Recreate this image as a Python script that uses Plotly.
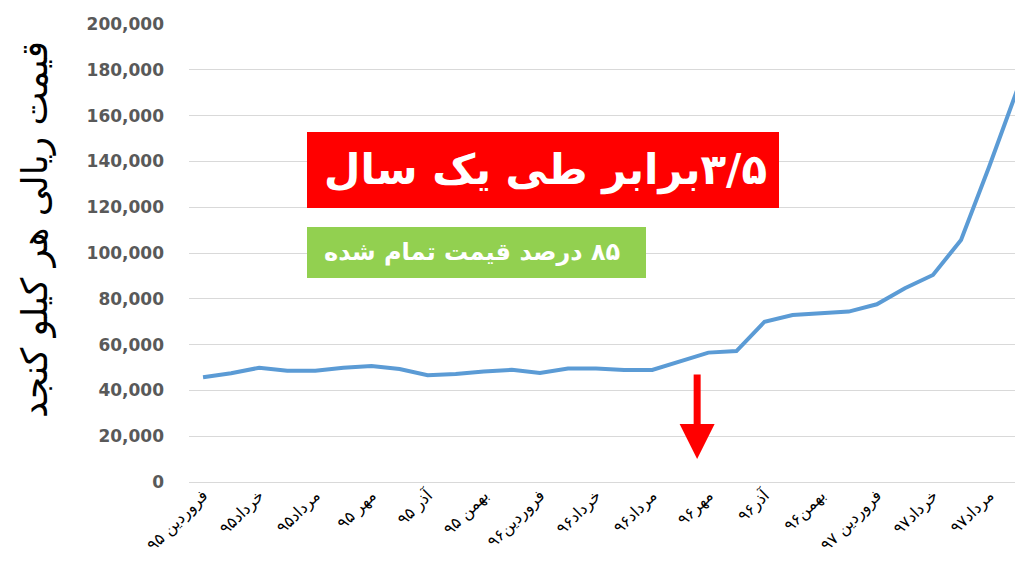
import plotly.graph_objects as go

# ---- data ----
month_index = list(range(30))
prices = [45700, 47500, 49900, 48600, 48600, 49900, 50700, 49300, 46600, 47200,
          48300, 49000, 47600, 49600, 49600, 48900, 48900, 52500, 56500, 57200,
          70000, 72900, 73700, 74400, 77600, 84600, 90400, 105700, 137700, 171200]
tick_positions = list(range(0, 30, 2))
tick_labels = ["فروردین ۹۵", "خرداد۹۵", "مرداد۹۵", "مهر ۹۵", "آذر ۹۵", "بهمن ۹۵",
               "فروردین۹۶", "خرداد۹۶", "مرداد۹۶", "مهر۹۶", "آذر۹۶", "بهمن۹۶",
               "فروردین ۹۷", "خرداد۹۷", "مرداد۹۷"]
y_title = "قیمت ریالی هر کیلو کنجد"
red_text = "\u200F۳/۵برابر طی یک سال\u200F"
green_text = "\u200F۸۵ درصد قیمت تمام شده\u200F"
arrow_x = 17.6
arrow_from = 47600
arrow_to = 10000

# page body has an 8px margin; compensate so the figure lands like the reference
OFF = 8
W, H = 1023 - OFF, 573 - OFF
L, T = 189 - OFF, 24 - OFF
R = W - (1020 - OFF)
B = H - (482 - OFF)
pw, ph = W - L - R, H - T - B


def px(x):
    return (x - OFF - L) / pw


def py(y):
    return (H - B - (y - OFF)) / ph


fig = go.Figure()
fig.add_trace(go.Scatter(
    x=month_index, y=prices, mode="lines",
    line=dict(color="#5B9BD5", width=4),
    hoverinfo="skip", showlegend=False,
))

fig.update_layout(
    width=W, height=H,
    margin=dict(l=L, r=R, t=T, b=B),
    paper_bgcolor="white", plot_bgcolor="white",
    xaxis=dict(
        range=[-0.5, 29.1], tickmode="array", tickvals=tick_positions,
        ticktext=tick_labels, tickangle=-45, showgrid=False, zeroline=False,
        showline=False, ticks="", automargin=False,
        tickfont=dict(family="DejaVu Sans", size=16, color="black"),
    ),
    yaxis=dict(
        range=[0, 200000], tickvals=list(range(0, 200001, 20000)),
        tickformat=",d", showgrid=True, gridcolor="#D9D9D9", gridwidth=1,
        zeroline=True, zerolinecolor="#D9D9D9", zerolinewidth=1,
        showline=False, ticks="", ticklabelstandoff=24, automargin=False,
        tickfont=dict(family="DejaVu Sans", size=17, color="#595959", weight="bold"),
    ),
)

# boxes
fig.add_shape(type="rect", xref="paper", yref="paper",
              x0=px(307), x1=px(779), y0=py(208), y1=py(132),
              fillcolor="#FF0000", line=dict(width=0), layer="above")
fig.add_shape(type="rect", xref="paper", yref="paper",
              x0=px(307), x1=px(646), y0=py(278), y1=py(227),
              fillcolor="#92D050", line=dict(width=0), layer="above")

fig.add_annotation(xref="paper", yref="paper", x=px(545), y=py(170),
                   text=red_text, showarrow=False, xanchor="center", yanchor="middle",
                   font=dict(family="DejaVu Sans", size=42, color="white", weight="bold"))
fig.add_annotation(xref="paper", yref="paper", x=px(472), y=py(252),
                   text=green_text, showarrow=False, xanchor="center", yanchor="middle",
                   font=dict(family="DejaVu Sans", size=24, color="white", weight="bold"))

# y title
fig.add_annotation(xref="paper", yref="paper", x=px(35), y=py(230),
                   text=y_title, showarrow=False, textangle=-90,
                   xanchor="center", yanchor="middle",
                   font=dict(family="DejaVu Sans", size=36, color="black"))

# red arrow
fig.add_annotation(x=arrow_x, y=arrow_to, ax=arrow_x, ay=arrow_from,
                   xref="x", yref="y", axref="x", ayref="y",
                   text="", showarrow=True, arrowhead=2, arrowsize=1,
                   arrowwidth=7, arrowcolor="#FF0000")

fig.write_html("out.html")
